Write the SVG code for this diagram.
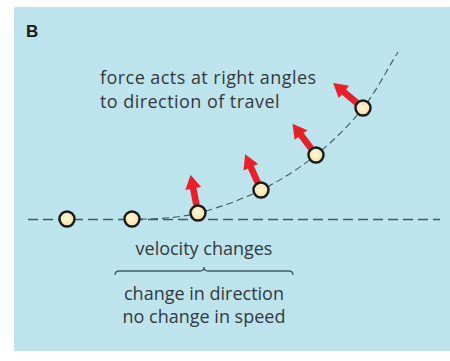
<svg xmlns="http://www.w3.org/2000/svg" width="450" height="361" viewBox="0 0 450 361">
<defs>
<style>
.lbl{font-family:"Open Sans","Noto Sans","Liberation Sans",sans-serif;font-size:18px;fill:#33393b}
.wide{letter-spacing:0.45px}
.ball{fill:url(#bg);stroke:#1a1a1a;stroke-width:2.4}
.arrow{fill:#e8202a}
</style>
<radialGradient id="bg" cx="0.45" cy="0.45" r="0.6">
<stop offset="0" stop-color="#fff8dc"/>
<stop offset="1" stop-color="#f6dc9a"/>
</radialGradient>
<path id="arr" class="arrow" d="M-3.3,-8 L-3.3,-25 L-8,-25 L0,-39 L8,-25 L3.3,-25 L3.3,-8 Z"/>
</defs>
<rect x="0" y="0" width="450" height="361" fill="#ffffff"/>
<rect x="14" y="7" width="436" height="344" fill="#bde3ec"/>
<text x="26" y="37" font-family="'Liberation Sans',Arial,sans-serif" font-weight="bold" font-size="17" fill="#1a1a1a">B</text>
<g id="connectors" fill="none" stroke="#3d5c63">
<path d="M28,219.5 L440,219.5" stroke-width="1.6" stroke-dasharray="10,5"/>
<path d="M140,219 C159.3,219 177.8,217.8 198,213 C218.2,208.2 241.3,199.7 261,190 C280.7,180.3 299,168.7 316,155 C333,141.3 349.3,125.2 363,108 C376.7,90.8 386.3,70.7 398,52" stroke-width="1.1" stroke-dasharray="7,4"/>
<path d="M115,275 Q115,271 119,271 L200,271 Q204,271 204,267 Q204,271 208,271 L289,271 Q293,271 293,275" stroke-width="1.3"/>
</g>
<g id="force-arrows">
<use href="#arr" transform="translate(198,213) rotate(-11)"/>
<use href="#arr" transform="translate(261,190) rotate(-24)"/>
<use href="#arr" transform="translate(316,155) rotate(-37)"/>
<use href="#arr" transform="translate(363,108) rotate(-50)"/>
</g>
<g id="ball1"><circle class="ball" cx="67" cy="219" r="7.5"/></g>
<g id="ball2"><circle class="ball" cx="132" cy="219" r="7.5"/></g>
<g id="ball3"><circle class="ball" cx="198" cy="213" r="7.5"/></g>
<g id="ball4"><circle class="ball" cx="261" cy="190" r="7.5"/></g>
<g id="ball5"><circle class="ball" cx="316" cy="155" r="7.5"/></g>
<g id="ball6"><circle class="ball" cx="363" cy="108" r="7.5"/></g>
<g id="label-force">
<text class="lbl wide" x="100" y="84">force acts at right angles</text>
<text class="lbl wide" x="100" y="108">to direction of travel</text>
</g>
<g id="label-velocity">
<text class="lbl" x="204" y="255" text-anchor="middle">velocity changes</text>
</g>
<g id="label-change">
<text class="lbl" x="204" y="300" text-anchor="middle">change in direction</text>
<text class="lbl" x="204" y="323" text-anchor="middle">no change in speed</text>
</g>
</svg>
